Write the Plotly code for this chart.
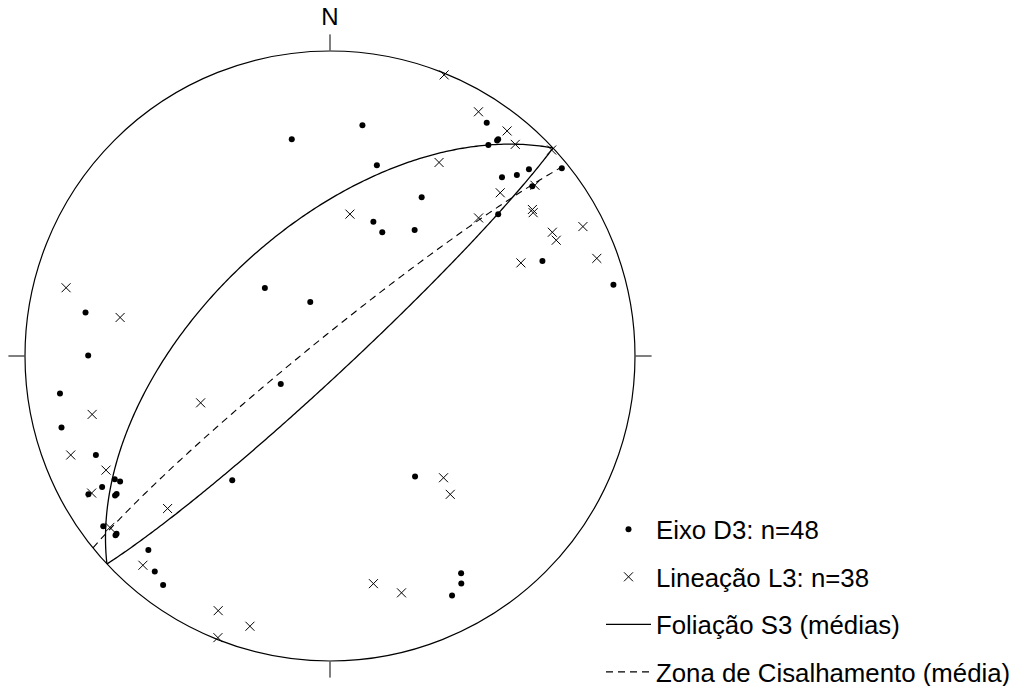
import numpy as np
import plotly.graph_objects as go

# ---- data: lower-hemisphere equal-area (Schmidt) stereonet ----
# Eixo D3 : trend / plunge (degrees)
eixo_trend = [33.9, 37.8, 37.8, 36.9, 51.0, 46.8, 45.9, 43.9, 30.0, 50.0,
              49.9, 65.9, 350.0, 8.0, 13.8, 17.9, 22.9, 33.9, 316.2, 339.9,
              240.3, 218.2, 144.8, 223.1, 219.1, 216.1, 148.9, 150.0, 153.0, 75.9,
              280.1, 270.1, 262.1, 255.1, 247.1, 240.2, 239.1, 240.1, 240.2, 237.0,
              237.1, 233.1, 230.1, 230.2]
eixo_plunge = [8.7, 11.0, 11.6, 14.6, 2.5, 11.5, 15.8, 19.8, 39.7, 14.5,
               28.7, 24.7, 28.6, 24.6, 35.8, 51.8, 53.7, 48.8, 64.8, 74.7,
               74.9, 47.0, 50.0, 13.9, 9.8, 7.9, 17.9, 15.0, 12.9, 4.7,
               19.7, 21.8, 11.6, 9.8, 17.8, 19.8, 20.9, 14.9, 9.6, 17.1,
               17.8, 7.8, 9.2, 9.8]

# Lineação L3 : trend / plunge (degrees)
lin_trend = [22.1, 31.3, 38.2, 41.2, 47.1, 29.4, 46.2, 50.2, 47.1, 54.1,
             54.8, 62.9, 60.9, 62.9, 69.9, 64.0, 8.0, 284.5, 280.4, 256.2,
             249.1, 243.0, 240.1, 232.1, 221.8, 226.8, 250.1, 137.0, 139.0, 203.7,
             196.5, 201.7, 169.2, 163.2]
lin_plunge = [0.6, 7.0, 6.8, 8.6, 0.9, 28.0, 23.7, 13.6, 33.9, 19.2,
              19.6, 7.6, 17.7, 17.8, 7.6, 31.0, 51.2, 11.6, 30.7, 20.8,
              9.9, 18.7, 10.8, 9.4, 8.8, 27.8, 52.8, 44.6, 39.7, 9.7,
              8.4, 0.7, 25.0, 20.0]

# Foliação S3 (médias): dip direction / dip
fol_dipdir = [317, 137]
fol_dip = [56, 85]
# Zona de Cisalhamento (média): dip direction / dip
zona_dipdir = [321]
zona_dip = [85]

legend_names = ["Eixo D3: n=48", "Lineação L3: n=38",
                "Foliação S3 (médias)", "Zona de Cisalhamento (média)"]


def ea_radius(plunge):
    p = np.radians(np.asarray(plunge, dtype=float))
    return np.sqrt(2) * np.sin((np.pi / 2 - p) / 2)


def great_circle(dipdir, dip, n=241):
    a = np.radians(np.linspace(0, 180, n))
    d = np.radians(dip)
    strike = dipdir - 90
    trend = strike + np.degrees(np.arctan2(np.sin(a) * np.cos(d), np.cos(a)))
    plunge = np.degrees(np.arcsin(np.sin(a) * np.sin(d)))
    return np.mod(trend, 360), ea_radius(plunge)


fig = go.Figure()

fig.add_trace(go.Scatterpolar(
    theta=eixo_trend, r=ea_radius(eixo_plunge), mode="markers",
    name=legend_names[0], legendgroup="a",
    marker=dict(symbol="circle", size=6, color="black"),
    cliponaxis=False))

fig.add_trace(go.Scatterpolar(
    theta=lin_trend, r=ea_radius(lin_plunge), mode="markers",
    name=legend_names[1], legendgroup="b",
    marker=dict(symbol="x-thin-open", size=9, color="black",
                line=dict(width=1, color="black")),
    cliponaxis=False))

for i, (dd, dp) in enumerate(zip(fol_dipdir, fol_dip)):
    t, r = great_circle(dd, dp)
    fig.add_trace(go.Scatterpolar(
        theta=t, r=r, mode="lines", name=legend_names[2], legendgroup="c",
        showlegend=(i == 0), line=dict(color="black", width=1.3),
        cliponaxis=False))

for dd, dp in zip(zona_dipdir, zona_dip):
    t, r = great_circle(dd, dp)
    fig.add_trace(go.Scatterpolar(
        theta=t, r=r, mode="lines", name=legend_names[3], legendgroup="d",
        line=dict(color="black", width=1.1, dash="7px,5px"),
        cliponaxis=False))

W, H = 1031, 686
cx, cy, R = 330, 356, 305
fig.update_layout(
    width=W, height=H,
    margin=dict(l=0, r=0, t=0, b=0, autoexpand=False),
    paper_bgcolor="white", plot_bgcolor="white",
    font=dict(family="Liberation Sans, Arial, sans-serif", color="black", size=25.8),
    polar=dict(
        domain=dict(x=[(cx - R) / W, (cx + R) / W],
                    y=[(H - cy - R) / H, (H - cy + R) / H]),
        bgcolor="white",
        radialaxis=dict(visible=False, range=[0, 1]),
        angularaxis=dict(direction="clockwise", rotation=90, showgrid=False,
                         showline=True, linecolor="black", linewidth=1.2,
                         ticks="outside", ticklen=16, tickwidth=1.2,
                         tickcolor="black", tickmode="array",
                         tickvals=[0, 90, 180, 270], ticktext=["N", "", "", ""],
                         tickfont=dict(size=24, color="black")),
    ),
    legend=dict(x=601 / W, y=(H - 506) / H, xanchor="left", yanchor="top",
                font=dict(size=25.8), tracegroupgap=11, itemwidth=45,
                bgcolor="rgba(0,0,0,0)", borderwidth=0),
    showlegend=True,
)

fig.write_html(
    "out.html",
    config={"displayModeBar": False},
    post_script="document.body.style.margin='0px';document.body.style.overflow='hidden';",
)
